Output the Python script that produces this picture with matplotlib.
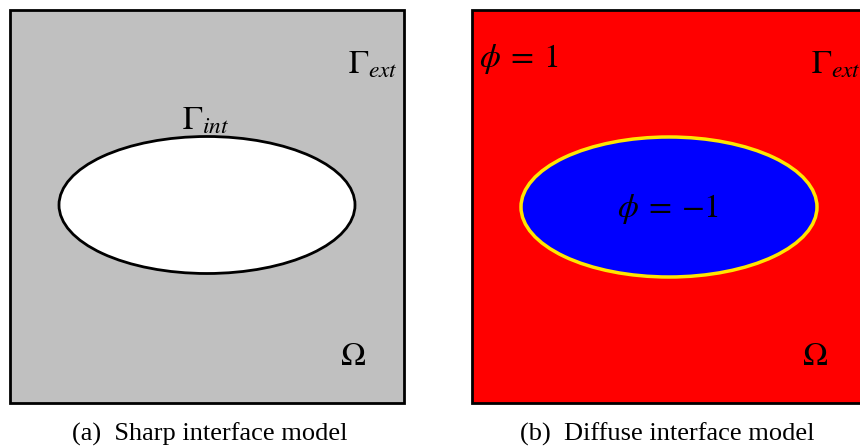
import matplotlib.pyplot as plt
from matplotlib.patches import Rectangle, Ellipse

plt.rcParams['mathtext.fontset'] = 'stix'
plt.rcParams['font.family'] = ['Liberation Serif', 'DejaVu Serif']

# panel boxes (pixel units): left, top, width, height
panels = ['a', 'b']
box_x = [10, 472]
box_w = [394, 400]
box_y = 10
box_h = 393
fill_colors = ['#c0c0c0', '#ff0000']

# inner ellipse: centre, full width and height
ell_cx = [207, 669]
ell_cy = [205, 207]
ell_w = [296, 296]
ell_h = [137, 140]
ell_fill = ['white', '#0000ff']
ell_edge = ['black', '#ffe600']
ell_lw = [2, 2.5]

captions = ['(a)  Sharp interface model', '(b)  Diffuse interface model']
caption_x = [210, 667]

fig = plt.figure(figsize=(8.6, 4.47), dpi=100)
ax = fig.add_axes([0, 0, 1, 1])
ax.set_xlim(0, 860)
ax.set_ylim(447, 0)
ax.axis('off')

for i in range(2):
    ax.add_patch(Rectangle((box_x[i], box_y), box_w[i], box_h,
                           facecolor=fill_colors[i], edgecolor='black', lw=2))
    ax.add_patch(Ellipse((ell_cx[i], ell_cy[i]), ell_w[i], ell_h[i],
                         facecolor=ell_fill[i], edgecolor=ell_edge[i], lw=ell_lw[i]))
    ax.text(caption_x[i], 434, captions[i], fontsize=19, ha='center', va='center')

# labels
fs = 24
ax.text(373, 65, r'$\Gamma_{ext}$', fontsize=fs, ha='center', va='center')
ax.text(836, 65, r'$\Gamma_{ext}$', fontsize=fs, ha='center', va='center')
ax.text(206, 121, r'$\Gamma_{int}$', fontsize=fs, ha='center', va='center')
ax.text(353, 357, r'$\Omega$', fontsize=fs, ha='center', va='center')
ax.text(815, 357, r'$\Omega$', fontsize=fs, ha='center', va='center')
ax.text(519, 59, r'$\phi\:=\:1$', fontsize=fs, ha='center', va='center')
ax.text(668, 209, r'$\phi\:=\:-1$', fontsize=fs, ha='center', va='center')

fig.savefig('out.png', dpi=100)
